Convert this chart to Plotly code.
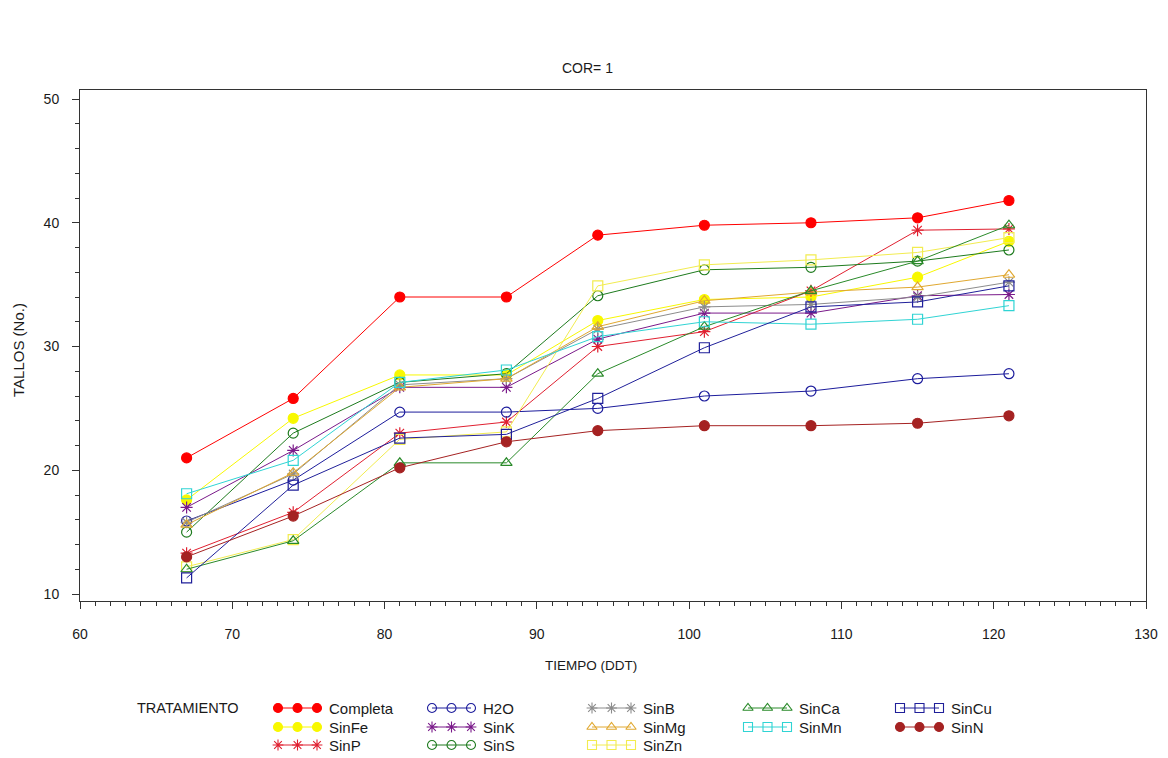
import plotly.graph_objects as go

W, H = 1168, 758

# ---- data ----
tiempo = [67, 74, 81, 88, 94, 101, 108, 115, 121]
tratamientos = ["Completa", "SinFe", "SinP", "H2O", "SinK", "SinS", "SinB",
                "SinMg", "SinZn", "SinCa", "SinMn", "SinCu", "SinN"]
completa = [21.0, 25.8, 34.0, 34.0, 39.0, 39.8, 40.0, 40.4, 41.8]
sin_fe = [17.6, 24.2, 27.7, 27.7, 32.1, 33.8, 34.0, 35.6, 38.5]
sin_p = [13.3, 16.6, 23.0, 23.9, 30.0, 31.2, 34.5, 39.4, 39.5]
h2o = [15.9, 19.2, 24.7, 24.7, 25.0, 26.0, 26.4, 27.4, 27.8]
sin_k = [17.0, 21.6, 26.7, 26.7, 30.6, 32.7, 32.7, 34.1, 34.2]
sin_s = [15.0, 23.0, 27.1, 27.8, 34.1, 36.2, 36.4, 36.9, 37.8]
sin_b = [15.8, 19.7, 26.9, 27.4, 31.4, 33.2, 33.4, 34.0, 35.2]
sin_mg = [15.6, 19.8, 26.7, 27.4, 31.6, 33.7, 34.4, 34.8, 35.8]
sin_zn = [12.2, 14.4, 22.5, 23.1, 34.9, 36.6, 37.0, 37.6, 38.8]
sin_ca = [12.0, 14.3, 20.6, 20.6, 27.8, 31.6, 34.5, 36.9, 39.8]
sin_mn = [18.1, 20.8, 27.1, 28.1, 30.8, 32.0, 31.8, 32.2, 33.3]
sin_cu = [11.3, 18.8, 22.6, 22.9, 25.8, 29.9, 33.2, 33.6, 34.9]
sin_n = [13.0, 16.3, 20.2, 22.3, 23.2, 23.6, 23.6, 23.8, 24.4]
valores = [completa, sin_fe, sin_p, h2o, sin_k, sin_s, sin_b,
           sin_mg, sin_zn, sin_ca, sin_mn, sin_cu, sin_n]

# ---- styles ----
colores = ["#FF0000", "#F8F800", "#E02030", "#1C1C9C", "#7A1A8A", "#1E7B1E",
           "#8C8C8C", "#E0A830", "#F2EC50", "#2A8A2A", "#30D4D4", "#20209A",
           "#A52222"]
simbolos = ["circle", "circle", "asterisk-open", "circle-open", "asterisk-open",
            "circle-open", "asterisk-open", "triangle-up-open", "square-open",
            "triangle-up-open", "square-open", "square-open", "circle"]
tamanos = [10, 10, 10, 10, 10, 10, 10, 10, 10, 10, 10, 10, 10]

FONT = "Liberation Sans"
TXT = "#1a1a1a"

fig = go.Figure()

# plot area in pixels
pl, pr, pt, pb = 80, 1146, 90, 601

for name, vals, c, s, sz in zip(tratamientos, valores, colores, simbolos, tamanos):
    fig.add_trace(go.Scatter(
        x=tiempo, y=vals, mode="lines+markers", name=name,
        line=dict(color=c, width=1),
        marker=dict(symbol=s, size=sz, color=c, line=dict(color=c, width=1.2)),
        xaxis="x", yaxis="y", showlegend=False, cliponaxis=False))

# ---- manual SAS-style legend (column-major) ----
col_x = [278, 432, 592, 748, 900]
row_y = [708, 727, 745]
per_col = [3, 3, 3, 2, 2]
idx = 0
annotations = []
for ci, n in enumerate(per_col):
    for ri in range(n):
        name, c, s, sz = tratamientos[idx], colores[idx], simbolos[idx], tamanos[idx]
        xs = [col_x[ci] + k * 19.5 for k in range(3)]
        ys = [row_y[ri]] * 3
        fig.add_trace(go.Scatter(
            x=xs, y=ys, mode="lines+markers", showlegend=False,
            line=dict(color=c, width=1),
            marker=dict(symbol=s, size=sz - 1, color=c, line=dict(color=c, width=1.1)),
            xaxis="x2", yaxis="y2", hoverinfo="skip", cliponaxis=False))
        annotations.append(dict(
            x=(col_x[ci] + 49) / W, y=1 - row_y[ri] / H, xref="paper", yref="paper",
            text=name, showarrow=False, xanchor="left", yanchor="middle",
            font=dict(family=FONT, size=15, color=TXT)))
        idx += 1

annotations.append(dict(x=135 / W, y=1 - 708 / H, xref="paper", yref="paper",
                        text="TRATAMIENTO", showarrow=False, xanchor="left",
                        yanchor="middle", font=dict(family=FONT, size=14.5, color=TXT)))
annotations.append(dict(x=587 / W, y=1 - 68 / H, xref="paper", yref="paper",
                        text="COR= 1", showarrow=False, xanchor="center",
                        yanchor="middle", font=dict(family=FONT, size=14, color=TXT)))
annotations.append(dict(x=591 / W, y=1 - 665 / H, xref="paper", yref="paper",
                        text="TIEMPO (DDT)", showarrow=False, xanchor="center",
                        yanchor="middle", font=dict(family=FONT, size=13.5, color=TXT)))
annotations.append(dict(x=19 / W, y=1 - 350 / H, xref="paper", yref="paper",
                        text="TALLOS (No.)", showarrow=False, textangle=-90,
                        xanchor="center", yanchor="middle",
                        font=dict(family=FONT, size=15, color=TXT)))

y_per_px = 40 / (594 - 99)
y_top = 50 + (99 - pt) * y_per_px
y_bot = 10 - (pb - 594) * y_per_px

fig.update_layout(
    width=W, height=H, margin=dict(l=0, r=0, t=0, b=0),
    paper_bgcolor="white", plot_bgcolor="rgba(0,0,0,0)",
    showlegend=False,
    font=dict(family=FONT, size=13, color=TXT),
    annotations=annotations,
    xaxis=dict(domain=[pl / W, pr / W], range=[60, 130], tick0=60, dtick=10,
               ticks="outside", ticklen=7, tickwidth=1, tickcolor="#333",
               showline=True, linecolor="#333", linewidth=1, mirror=True,
               showgrid=False, zeroline=False, automargin=False,
               ticklabelstandoff=13,
               tickfont=dict(family=FONT, size=14, color=TXT),
               minor=dict(dtick=1, ticks="outside", ticklen=4, tickcolor="#333",
                          showgrid=False)),
    yaxis=dict(domain=[1 - pb / H, 1 - pt / H], range=[y_bot, y_top], tick0=10,
               dtick=10, ticks="outside", ticklen=7, tickwidth=1, tickcolor="#333",
               showline=True, linecolor="#333", linewidth=1, mirror=True,
               showgrid=False, zeroline=False, automargin=False,
               ticklabelstandoff=10,
               tickfont=dict(family=FONT, size=14, color=TXT),
               minor=dict(dtick=2, ticks="outside", ticklen=4, tickcolor="#333",
                          showgrid=False)),
    xaxis2=dict(domain=[0, 1], range=[0, W], visible=False, anchor="y2",
                fixedrange=True),
    yaxis2=dict(domain=[0, 1], range=[H, 0], visible=False, anchor="x2",
                fixedrange=True),
)

fig.write_html("out.html")
